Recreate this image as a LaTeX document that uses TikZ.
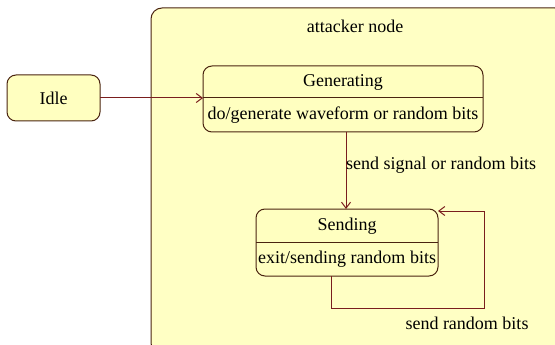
\documentclass[tikz,border=0pt]{standalone}
\usepackage{fontspec}
\setmainfont{Liberation Serif}
\usetikzlibrary{arrows.meta}
\definecolor{statefill}{HTML}{FFFFC0}
\definecolor{boxfill}{HTML}{FFFFC4}
\definecolor{edge}{HTML}{4A2410}
\definecolor{arrowc}{HTML}{7A1E1E}
\begin{document}
\begin{tikzpicture}[x=1pt,y=-1pt,
  every node/.style={font=\fontsize{18}{20}\selectfont, text=black},
  statebox/.style={draw=edge, line width=1pt, fill=statefill, rounded corners=9pt},
  divider/.style={draw=edge, line width=1pt},
  trans/.style={draw=arrowc, line width=1pt, -{Straight Barb[length=6pt,width=9pt]}},
  lbl/.style={inner sep=1pt}]
\useasboundingbox (0,0) rectangle (555,345);
\begin{scope}
\clip (0,0) rectangle (555,345);
\draw[draw=edge, line width=1pt, fill=boxfill, rounded corners=11pt] (151,8) rectangle (566,354);
\end{scope}
\node[lbl] (title) at (355,26) {attacker node};
% Idle
\draw[statebox] (7,75) rectangle (100,121);
\node[lbl] (idle) at (53.5,98) {Idle};
\coordinate (idleE) at (100,98);
% Generating
\draw[statebox] (203,66) rectangle (483,132);
\draw[divider] (203,98) -- (483,98);
\node[lbl] (gen) at (343,82) {Generating};
\node[lbl] (genbody) at (343,115) {do/generate waveform or random bits};
\coordinate (genW) at (203,98);
\coordinate (genS) at (346,132);
% Sending
\draw[statebox] (256,209) rectangle (438,276);
\draw[divider] (256,242) -- (438,242);
\node[lbl] (send) at (347,226) {Sending};
\node[lbl] (sendbody) at (347,259) {exit/sending random bits};
\coordinate (sendN) at (346,209);
\coordinate (sendS) at (331,276);
\coordinate (sendE) at (438,211);
% transitions
\draw[trans] (idleE) -- (genW);
\draw[trans] (genS) -- (sendN);
\node[lbl, anchor=west] (l1) at (345,165) {send signal or random bits};
\draw[trans] (sendS) -- (331,308) -- (484,308) -- (484,211) -- (sendE);
\node[lbl] (l2) at (467,323) {send random bits};
\end{tikzpicture}
\end{document}
